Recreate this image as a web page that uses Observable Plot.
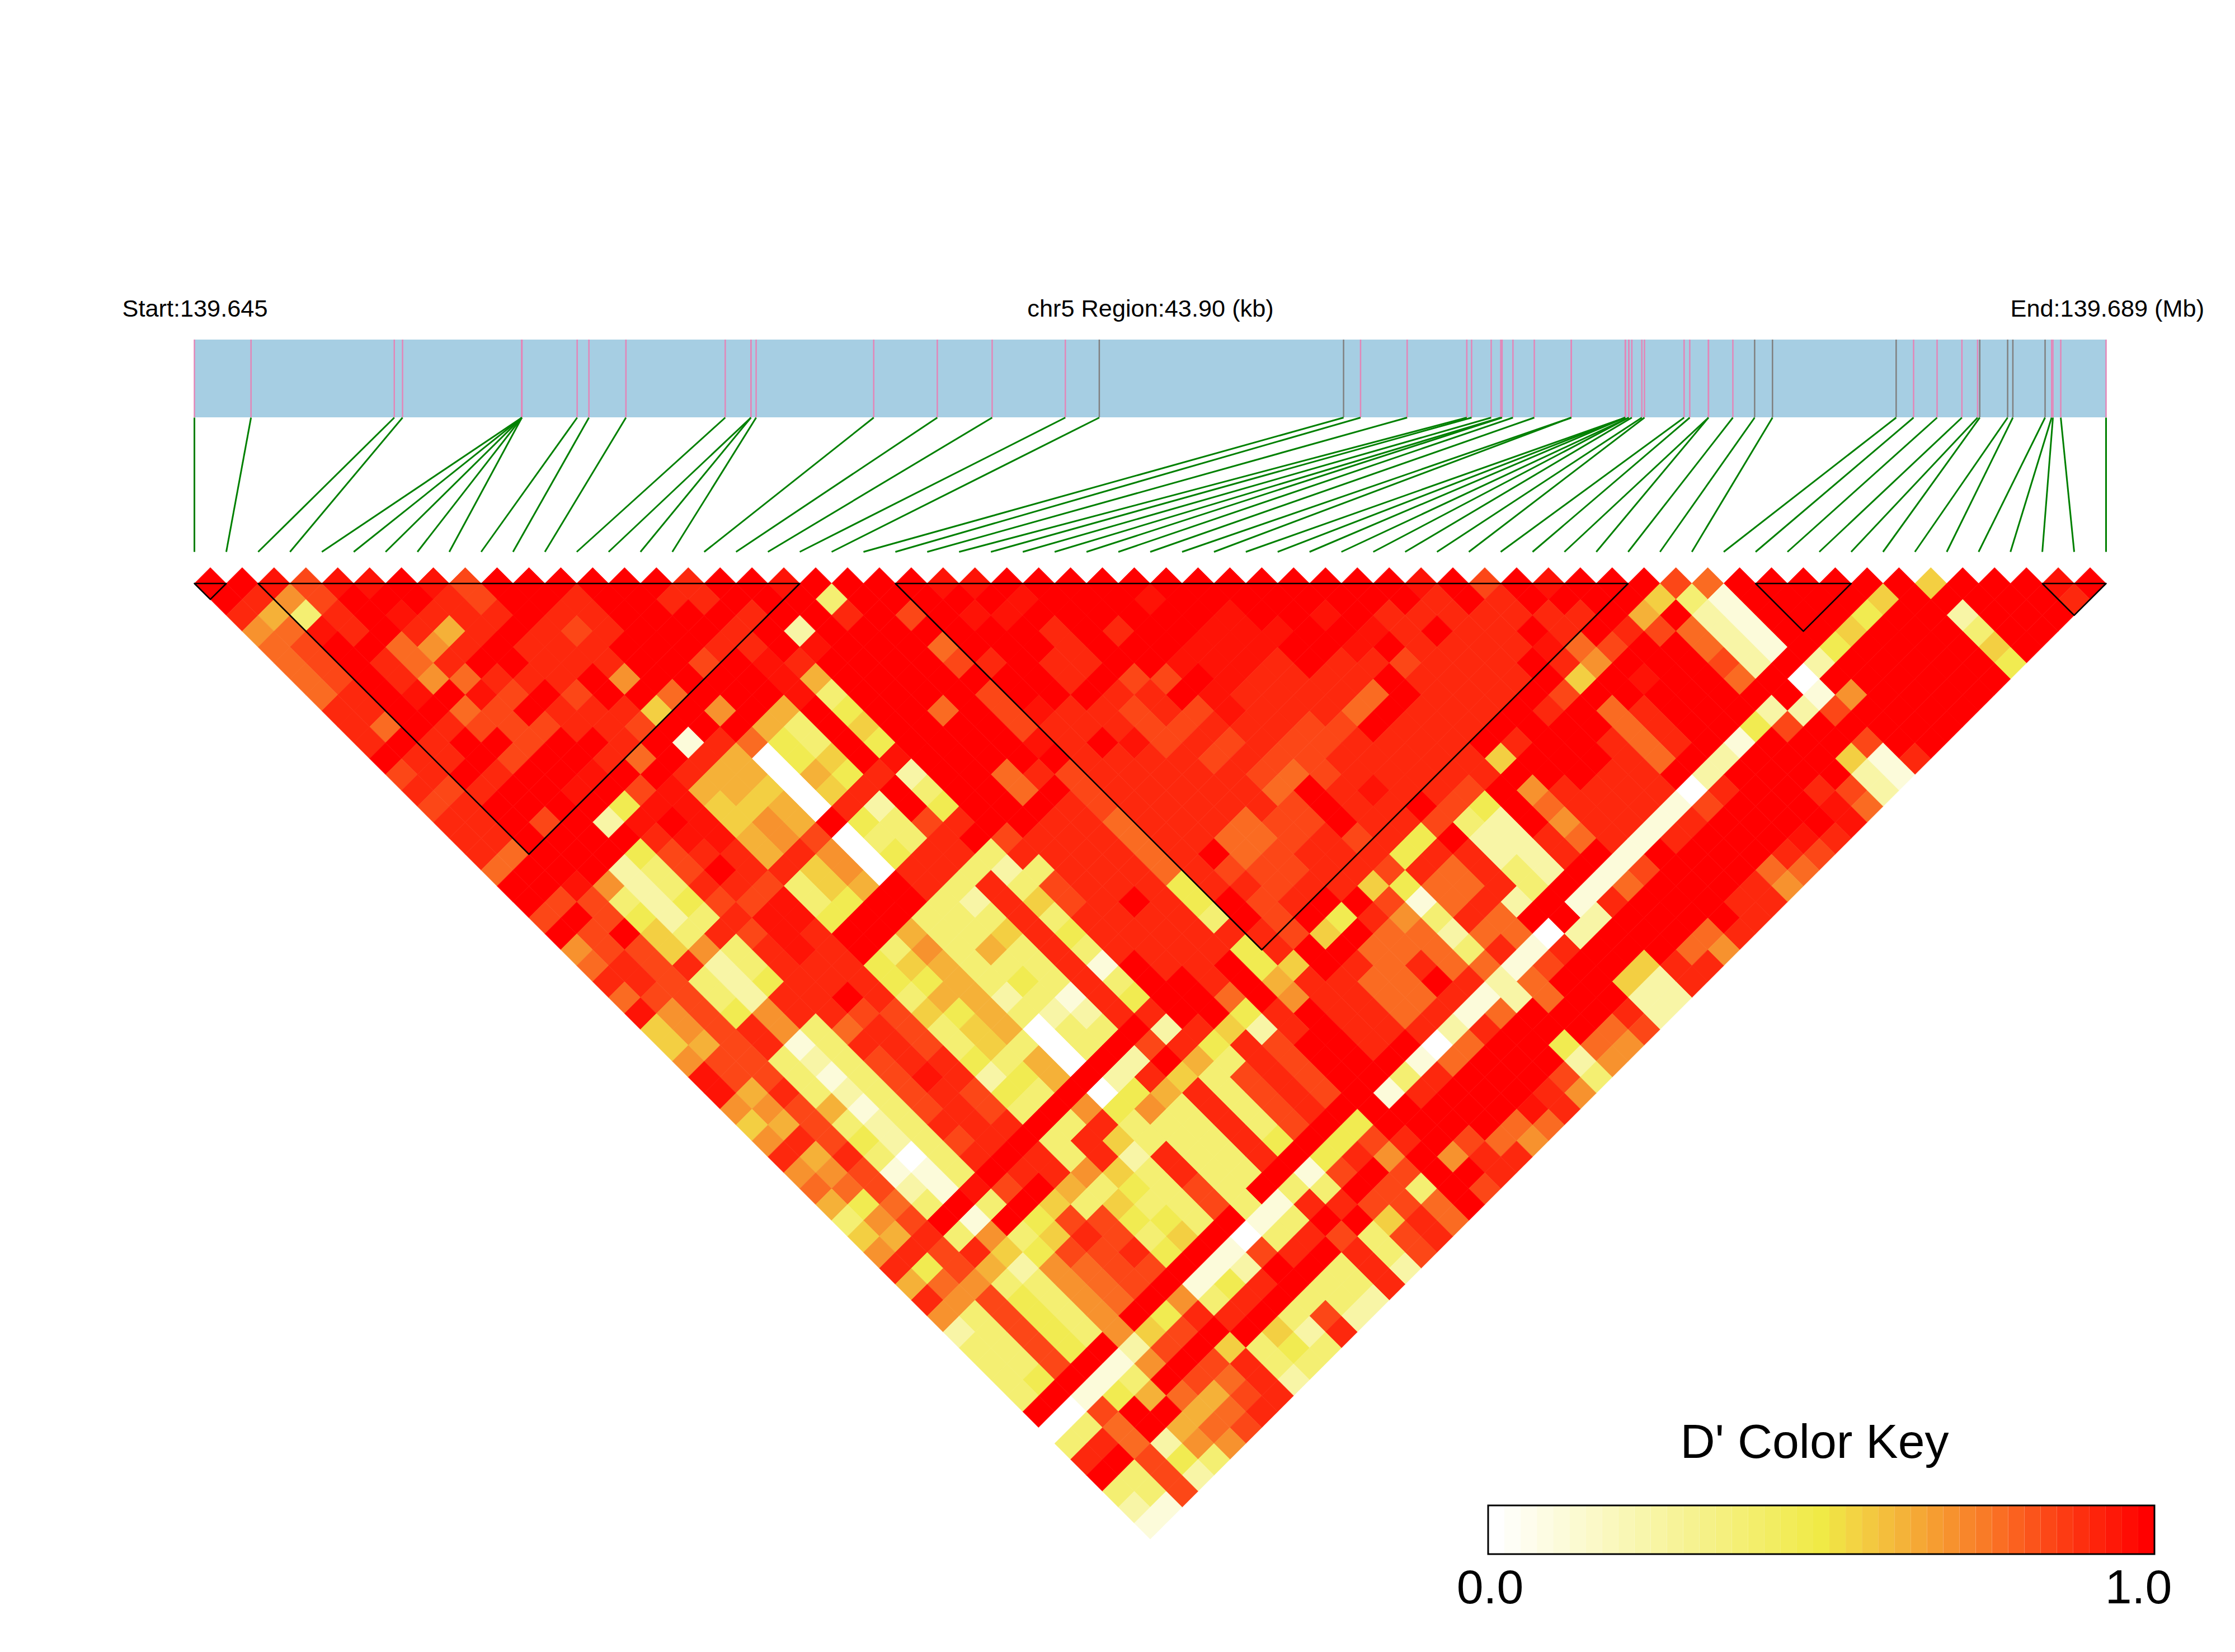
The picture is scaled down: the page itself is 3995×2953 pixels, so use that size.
<!DOCTYPE html>
<html>
<head>
<meta charset="utf-8">
<script src="https://cdn.jsdelivr.net/npm/d3@7"></script>
<script src="https://cdn.jsdelivr.net/npm/@observablehq/plot@0.6"></script>
<style>
html,body{margin:0;padding:0;background:#fff}
svg{display:block}
</style>
</head>
<body>
<div id="chart"></div>
<script>
// D' code per cell: row n holds the pairs of SNPs that are n apart, in SNP order
const levelOf = {"0":0,"1":.1,"2":.24,"3":.38,"4":.47,"5":.56,"6":.63,"7":.7,"8":.78,"9":.85,"a":.915,"b":.96,".":1};
const rows = [
"..b9bb.b9. .....a..b. ...bb..... ........b. 9.b...98.. ....5...b.",
".a79...a9. .a..aa...3 .....b...b ........a. a....531.. ..5.....a",
"a63a.baaa. aa....a..a .9.bb..... .b..b.aaaa aaa.6.21.. .4..2...",
"78ba.a6a.a 9a...a.2.. .....a.a.. bbb..ba.aa .a.a9821.. 5...3..",
"89..87a.aa a...aa.b.. .8...a...b bb..b.aaaa b89..821.4 ....5.",
"89.a8a..aa a..9.ba... .9a.aa..bb ba.aa9aaa. a7...92.2. ....4",
"89.a78aaa. 7....b6... ....a.99.b aaaa.aaaa. 5.b..8.0.. ....",
"8a.b.b9.9. .8...b3... .9...aa.ba aaa8.aaa.9 .......17. ...",
"aa..89.aaa 5.7.6.4..8 .9baa9a9ba aa8.aaa.a. 8a...229.. ..",
"a8.a999aa9 ...63.5... .9aaa99aaa 99.aaa.... 8a..49.... .",
"a.a..9..a. 1a843.4... .ba.b9a9a9 9aaaa.a..a 8a.1...9..",
".aa.9..a8. a6045.b... ..aaaa9a99 aaaaa5...a 8.2...51a",
"9a.a..b..a 66064a2..8 a9aaaaa989 aaaaa...aa .2....21",
"a9a..b.9b6 6505a.3..8 .9aaaaa8.a baa9.7aaaa 0a..a92",
"9a....4bb5 560a2.4... a9aaaaa9.a a.94.8aaa1 9...b8",
"aa.9.2b.b5 76.439a..a a8aaa899.a a932.7aa1a ....b",
"aa....abb6 79033a.9aa a8aa889a9a 4.22a8a1a. ..ba",
"a8...49aa6 a704aa3aaa a8a.89aaa4 aa22a.1... .a9",
"8...239.aa 570aa323aa a8a999aa9a 8a32.19... 88",
"..b723aa93 56.a3a39aa a4aa9aa548 8a3.18...a 7",
".9932499b3 4..32a59a. a4.9a..918 a2.1a...aa",
"9.9423abb4 ..333a3aaa a3.9.4a73a 8..2....a",
".9.53a9ba. .6335a4aaa aaa95.8828 802...8a",
"799573aba. 37363a3aaa a4a..8883a 1a...87",
"8a9a23aaa4 56333a1.aa .45.a8a881 9..5aa",
"aa9324aaa4 46343a3..a .6aa88.a28 ..52a",
"89932aa.a3 66231a4..8 .7aa88a128 ..22",
"b7947aa995 46322aa..4 a.aa8a18.. .a2",
"579a738a93 56033.2a52 a.aaa2a... 89",
"569a13aa93 5303.9a4a9 ..a.08..48 7",
"7993239aa4 360.2.63a9 ...18...27",
"b993139ba2 46.2a539a9 ..3a...93",
"b6a3239a94 3.046a39a9 .1a...a7",
"7796139a93 .7473a39a. .....ba",
"569323aaa. 3a333a39.4 ....88",
"7a94239a.3 a5333a4.49 a.987",
"a6a303a.a3 a2a33a.4a7 .7aa",
"779113.aa7 53a33.19.9 ..a",
"88921b9.63 4393.33.93 .9",
"6483.3.535 33931aa998 .",
"379.1.4994 43.13..5a8",
"56a3735a93 5.03a939a",
"7a9a5499a4 .19a.a39",
"a49627899. 12..3a2",
"68733789.1 4a.33a",
"a794378.73 a.332",
"739437.4aa .392",
"23943759.. 52a",
"3394.29.53 43",
"339.17.9a33",
"34.13.98a2",
"3.146869a",
".09..68a",
"038.689",
"3a8277",
"a.943",
".392",
"339",
"21",
"1"
];

// SNP positions in kb from the region start
const snpKb = [0,1.30,4.59,4.78,7.52,7.52,7.52,7.52,7.52,8.79,9.06,9.91,12.19,12.78,12.78,12.90,15.60,17.06,18.32,20.00,20.78,
26.39,26.78,27.85,29.22,29.33,29.78,30.00,30.03,30.28,30.77,31.62,31.62,32.86,32.86,32.86,32.94,32.94,33.01,33.24,33.30,
34.21,34.34,34.77,34.77,35.33,35.83,36.24,39.08,39.48,40.02,40.59,40.95,41.00,41.64,41.76,42.50,42.65,42.68,42.86,43.90];
const grayTicks = [20,21,46,47,48,53,54,55,56];
const blocks = [[0,1],[2,19],[22,45],[49,52],[58,60]];
const regionKb = 43.9;

const colorStops = [0,.5,.56,.65,.75,.85,1];
const colorRange = ["#ffffff","#f0ea46","#f3cf42","#f5a835","#f97b27","#fc4717","#ff0000"];
const keyBins = d3.range(41);

// layout
const W = 3995, H = 2953, left = 347, step = 28.475, top0 = 1014, stepY = 28.47;
const xAt = px => (px - left) / step;
const yAt = px => (px - top0) / stepY;
const nSnp = snpKb.length;
const posX = kb => (kb / regionKb) * (2 * (nSnp - 1));

const cells = [];
rows.forEach((r, n) => {
  const s = r.replace(/\s/g, "");
  const L = n + 1;
  if (s.length !== nSnp - L) console.warn("row", L, s.length, nSnp - L);
  for (let i = 0; i < nSnp - L; i++) {
    const c = s[i] ?? ".";
    cells.push({k: 2 * i + L, L, v: levelOf[c]});
  }
});

const diamond = {draw(ctx, size){
  const r = Math.sqrt(size / Math.PI);
  ctx.moveTo(0, -r); ctx.lineTo(r, 0); ctx.lineTo(0, r); ctx.lineTo(-r, 0); ctx.closePath();
}};

const snps = snpKb.map((kb, i) => ({i, kb, gray: grayTicks.includes(i)}));
const blockPts = blocks.flatMap(([a, b], id) => [
  {id, k: 2 * a, L: 1}, {id, k: 2 * b, L: 1}, {id, k: a + b, L: b - a + 1}, {id, k: 2 * a, L: 1}
]);

const barTop = yAt(607), barBot = yAt(746), linkBot = yAt(986);
const keyX = v => xAt(2660 + (3851 - 2660) * v);
const font = "Liberation Sans, Arial, sans-serif";

const plot = Plot.plot({
  width: W, height: H, margin: 0,
  style: {fontFamily: font, background: "#fff", color: "#000"},
  x: {domain: [xAt(0), xAt(W)], range: [0, W], axis: null},
  y: {domain: [yAt(0), yAt(H)], range: [0, H], axis: null},
  color: {type: "linear", domain: colorStops, range: colorRange, interpolate: "rgb", clamp: true},
  marks: [
    Plot.rect([0], {x1: () => posX(0), x2: () => posX(regionKb), y1: barTop, y2: barBot, fill: "#a6cee3"}),
    Plot.ruleX(snps.filter(d => !d.gray), {x: d => posX(d.kb), y1: barTop, y2: barBot, stroke: "#e386b8", strokeWidth: 2.5}),
    Plot.ruleX(snps.filter(d => d.gray), {x: d => posX(d.kb), y1: barTop, y2: barBot, stroke: "#808080", strokeWidth: 2.5}),
    Plot.link(snps, {x1: d => posX(d.kb), y1: barBot, x2: d => 2 * d.i, y2: linkBot, stroke: "#008000", strokeWidth: 3}),
    Plot.dot(cells, {x: "k", y: "L", r: step, symbol: diamond, fill: "v", stroke: "v", strokeWidth: 0.7}),
    Plot.line(blockPts, {x: "k", y: "L", z: "id", stroke: "#000", strokeWidth: 2.6, curve: "linear"}),
    Plot.text(["Start:139.645"], {x: xAt(218), y: yAt(565), text: d => d, textAnchor: "start", lineAnchor: "bottom", fontSize: 43.3, fill: "#000"}),
    Plot.text(["chr5 Region:43.90 (kb)"], {x: xAt(2056), y: yAt(565), text: d => d, textAnchor: "middle", lineAnchor: "bottom", fontSize: 43.3, fill: "#000"}),
    Plot.text(["End:139.689 (Mb)"], {x: xAt(3593), y: yAt(565), text: d => d, textAnchor: "start", lineAnchor: "bottom", fontSize: 43.3, fill: "#000"}),
    Plot.rect(keyBins, {x1: b => keyX(b / 41), x2: b => keyX((b + 1) / 41), y1: yAt(2691), y2: yAt(2778), fill: b => b / 40}),
    Plot.rect([0], {x1: () => keyX(0), x2: () => keyX(1), y1: yAt(2691), y2: yAt(2778), fill: "none", stroke: "#000", strokeWidth: 3}),
    Plot.text(["D' Color Key"], {x: xAt(3243), y: yAt(2605), text: d => d, textAnchor: "middle", lineAnchor: "bottom", fontSize: 86, fill: "#000"}),
    Plot.text(["0.0"], {x: xAt(2663), y: yAt(2865), text: d => d, textAnchor: "middle", lineAnchor: "bottom", fontSize: 86, fill: "#000"}),
    Plot.text(["1.0"], {x: xAt(3822), y: yAt(2865), text: d => d, textAnchor: "middle", lineAnchor: "bottom", fontSize: 86, fill: "#000"})
  ]
});
document.getElementById("chart").append(plot);
</script>
</body>
</html>
